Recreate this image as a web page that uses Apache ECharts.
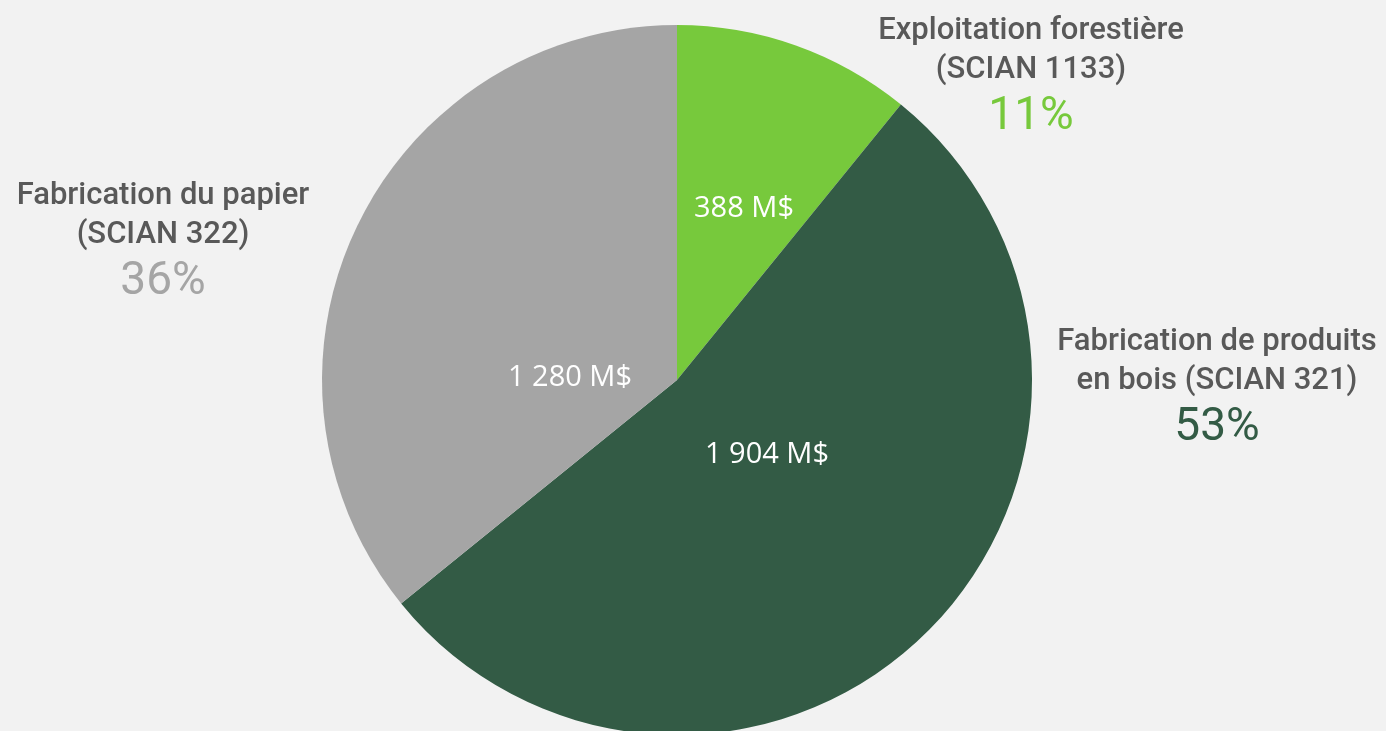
<!DOCTYPE html>
<html>
<head>
<meta charset="utf-8">
<script src="https://cdn.jsdelivr.net/npm/echarts@6/dist/echarts.min.js"></script>
<style>
html,body{margin:0;padding:0;background:#F2F2F2;}
#chart{width:1386px;height:731px;}
</style>
</head>
<body>
<div id="chart"></div>
<script>
// Data
const categories = ['Exploitation forestière\n(SCIAN 1133)', 'Fabrication de produits\nen bois (SCIAN 321)', 'Fabrication du papier\n(SCIAN 322)'];
const values = [388, 1904, 1280];
const valueLabels = ['388 M$', '1 904 M$', '1 280 M$'];
const percentLabels = ['11%', '53%', '36%'];
const colors = ['#77C93C', '#335B45', '#A5A5A5'];

// Label placement (text only)
const innerPos = [[744, 209], [767, 455], [570, 378]];
const outerPos = [[1031, 12], [1217, 323], [163, 177]];

const chart = echarts.init(document.getElementById('chart'), null, {renderer: 'canvas'});

const option = {
  backgroundColor: '#F2F2F2',
  animation: false,
  series: [
    {
      type: 'pie',
      center: [677, 380],
      radius: [0, 355],
      startAngle: 90,
      clockwise: true,
      silent: true,
      itemStyle: {borderWidth: 0},
      data: values.map((v, i) => ({value: v, name: categories[i], itemStyle: {color: colors[i]}})),
      label: {
        show: true,
        position: 'inside',
        formatter: p => valueLabels[p.dataIndex],
        color: '#FFFFFF',
        fontFamily: 'Open Sans',
        fontSize: 29
      },
      labelLine: {show: false},
      labelLayout: p => ({
        x: innerPos[p.dataIndex][0],
        y: innerPos[p.dataIndex][1],
        align: 'center',
        verticalAlign: 'middle'
      })
    },
    {
      type: 'pie',
      center: [677, 380],
      radius: [0, 355],
      startAngle: 90,
      clockwise: true,
      silent: true,
      itemStyle: {color: 'rgba(0,0,0,0)', borderWidth: 0},
      data: values.map((v, i) => ({value: v, name: categories[i], itemStyle: {color: 'rgba(0,0,0,0)'}})),
      label: {
        show: true,
        position: 'outside',
        formatter: p => {
          const lines = categories[p.dataIndex].split('\n').map(s => '{n|' + s + '}');
          return lines.join('\n') + '\n{p' + p.dataIndex + '|' + percentLabels[p.dataIndex] + '}';
        },
        align: 'center',
        rich: {
          n: {fontFamily: 'Roboto', fontSize: 31, fontWeight: 500, lineHeight: 39, color: '#595959', align: 'center'},
          p0: {fontFamily: 'Roboto', fontSize: 46, lineHeight: 55, color: colors[0], align: 'center'},
          p1: {fontFamily: 'Roboto', fontSize: 46, lineHeight: 55, color: colors[1], align: 'center'},
          p2: {fontFamily: 'Roboto', fontSize: 46, lineHeight: 55, color: colors[2], align: 'center'}
        }
      },
      labelLine: {show: false},
      labelLayout: p => ({
        x: outerPos[p.dataIndex][0],
        y: outerPos[p.dataIndex][1],
        align: 'center',
        verticalAlign: 'top'
      })
    }
  ]
};
chart.setOption(option);
</script>
</body>
</html>
